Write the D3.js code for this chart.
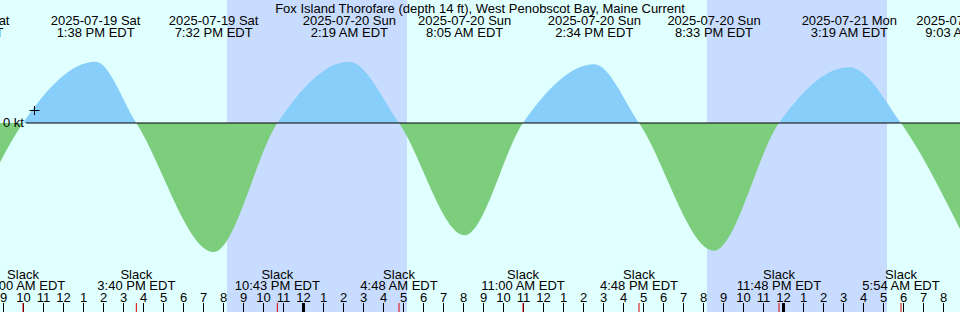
<!DOCTYPE html>
<html>
<head>
  <meta charset="utf-8" />
  <script src="https://d3js.org/d3.v7.min.js"></script>
</head>
<style>
body { margin: 0; overflow: hidden; }
text { font-family: "Liberation Sans", Arial, sans-serif; font-size: 13px; fill: #000; }
</style>
<body>
<div id="viz"></div>
<script>
'use strict';

const title = 'Fox Island Thorofare (depth 14 ft), West Penobscot Bay, Maine Current';
const domainTimes = ['2025-07-19T08:51', '2025-07-21T08:51'];
const nightStarts = ['2025-07-19T20:12', '2025-07-20T20:12'];
const nightEnds = ['2025-07-20T05:12', '2025-07-21T05:12'];

// max flood (+) / max ebb (-), knots
const maxTimes = ['2025-07-19T07:05', '2025-07-19T13:38', '2025-07-19T19:32', '2025-07-20T02:19',
  '2025-07-20T08:05', '2025-07-20T14:34', '2025-07-20T20:33', '2025-07-21T03:19', '2025-07-21T09:03'];
const maxSpeeds = [-1.9, 1.02, -2.15, 1.02, -1.87, 0.98, -2.13, 0.93, -1.9];
const maxDates = ['2025-07-19 Sat', '2025-07-19 Sat', '2025-07-19 Sat', '2025-07-20 Sun',
  '2025-07-20 Sun', '2025-07-20 Sun', '2025-07-20 Sun', '2025-07-21 Mon', '2025-07-21 Mon'];
const maxLabels = ['7:05 AM EDT', '1:38 PM EDT', '7:32 PM EDT', '2:19 AM EDT',
  '8:05 AM EDT', '2:34 PM EDT', '8:33 PM EDT', '3:19 AM EDT', '9:03 AM EDT'];

const slackTimes = ['2025-07-19T10:00', '2025-07-19T15:40', '2025-07-19T22:43', '2025-07-20T04:48',
  '2025-07-20T11:00', '2025-07-20T16:48', '2025-07-20T23:48', '2025-07-21T05:54'];
const slackLabels = ['10:00 AM EDT', '3:40 PM EDT', '10:43 PM EDT', '4:48 AM EDT',
  '11:00 AM EDT', '4:48 PM EDT', '11:48 PM EDT', '5:54 AM EDT'];

const width = 960;
const height = 312;
const parse = d3.timeParse('%Y-%m-%dT%H:%M');

const x = d3.scaleTime()
  .domain(domainTimes.map(parse))
  .range([0, width]);
const y = d3.scaleLinear()
  .domain([-2, 1])
  .range([243, 63]);

const points = maxTimes.map((t, i) => ({t: parse(t), v: maxSpeeds[i]}))
  .concat(slackTimes.map(t => ({t: parse(t), v: 0})))
  .sort((a, b) => a.t - b.t);

const svg = d3.select('#viz')
  .append('svg')
    .attr('width', width)
    .attr('height', height);

svg.append('rect')
  .attr('width', width)
  .attr('height', height)
  .attr('fill', '#e0ffff');

svg.selectAll('rect.night').data(nightStarts)
  .enter()
  .append('rect')
  .attr('class', 'night')
  .attr('x', (d, i) => x(parse(d)))
  .attr('width', (d, i) => x(parse(nightEnds[i])) - x(parse(d)))
  .attr('y', 0)
  .attr('height', height)
  .attr('fill', '#c8dcff');

const defs = svg.append('defs');
defs.append('clipPath').attr('id', 'above')
  .append('rect').attr('x', 0).attr('y', 0).attr('width', width).attr('height', y(0));
defs.append('clipPath').attr('id', 'below')
  .append('rect').attr('x', 0).attr('y', y(0)).attr('width', width).attr('height', height - y(0));

const area = d3.area()
  .curve(d3.curveMonotoneX)
  .x(d => x(d.t))
  .y0(y(0))
  .y1(d => y(d.v));

svg.append('path')
  .datum(points)
  .attr('clip-path', 'url(#above)')
  .attr('fill', '#87cefa')
  .attr('d', area);
svg.append('path')
  .datum(points)
  .attr('clip-path', 'url(#below)')
  .attr('fill', '#7ccd7c')
  .attr('d', area);

// zero line
svg.append('line')
  .attr('x1', 26).attr('x2', width)
  .attr('y1', y(0)).attr('y2', y(0))
  .attr('stroke', '#000');
svg.append('text')
  .attr('x', 24).attr('y', y(0) + 4)
  .attr('text-anchor', 'end')
  .text('0 kt');
svg.append('path')
  .attr('d', 'M29.5,110.5h10M34.5,106v9')
  .attr('stroke', '#000')
  .attr('fill', 'none');

svg.append('text')
  .attr('x', width / 2).attr('y', 13)
  .attr('text-anchor', 'middle')
  .text(title);

const maxG = svg.append('g');
maxG.selectAll('text.d').data(maxTimes)
  .enter()
  .append('text')
  .attr('x', d => x(parse(d)))
  .attr('y', 25)
  .attr('text-anchor', 'middle')
  .text((d, i) => maxDates[i]);
maxG.selectAll('text.t').data(maxTimes)
  .enter()
  .append('text')
  .attr('x', d => x(parse(d)))
  .attr('y', 37)
  .attr('text-anchor', 'middle')
  .text((d, i) => maxLabels[i]);

const slackG = svg.append('g');
slackG.selectAll('text.s').data(slackTimes)
  .enter()
  .append('text')
  .attr('x', d => x(parse(d)))
  .attr('y', 278.5)
  .attr('text-anchor', 'middle')
  .text('Slack');
slackG.selectAll('text.l').data(slackTimes)
  .enter()
  .append('text')
  .attr('x', d => x(parse(d)))
  .attr('y', 290.3)
  .attr('text-anchor', 'middle')
  .text((d, i) => slackLabels[i]);

// hour ticks
const axis = d3.axisTop(x)
  .ticks(d3.timeHour.every(1))
  .tickSize(9)
  .tickPadding(1)
  .tickFormat(d3.timeFormat('%-I'));
const ax = svg.append('g')
  .attr('transform', 'translate(0,' + height + ')')
  .call(axis);
ax.select('.domain').remove();
ax.attr('font-family', null).attr('font-size', null);
ax.selectAll('.tick line')
  .attr('stroke', '#000')
  .attr('stroke-width', d => d.getHours() === 0 ? 3 : 1);

svg.selectAll('line.slack').data(slackTimes)
  .enter()
  .append('line')
  .attr('class', 'slack')
  .attr('x1', d => x(parse(d))).attr('x2', d => x(parse(d)))
  .attr('y1', height - 9).attr('y2', height)
  .attr('stroke', '#e00000');
</script>
</body>
</html>
